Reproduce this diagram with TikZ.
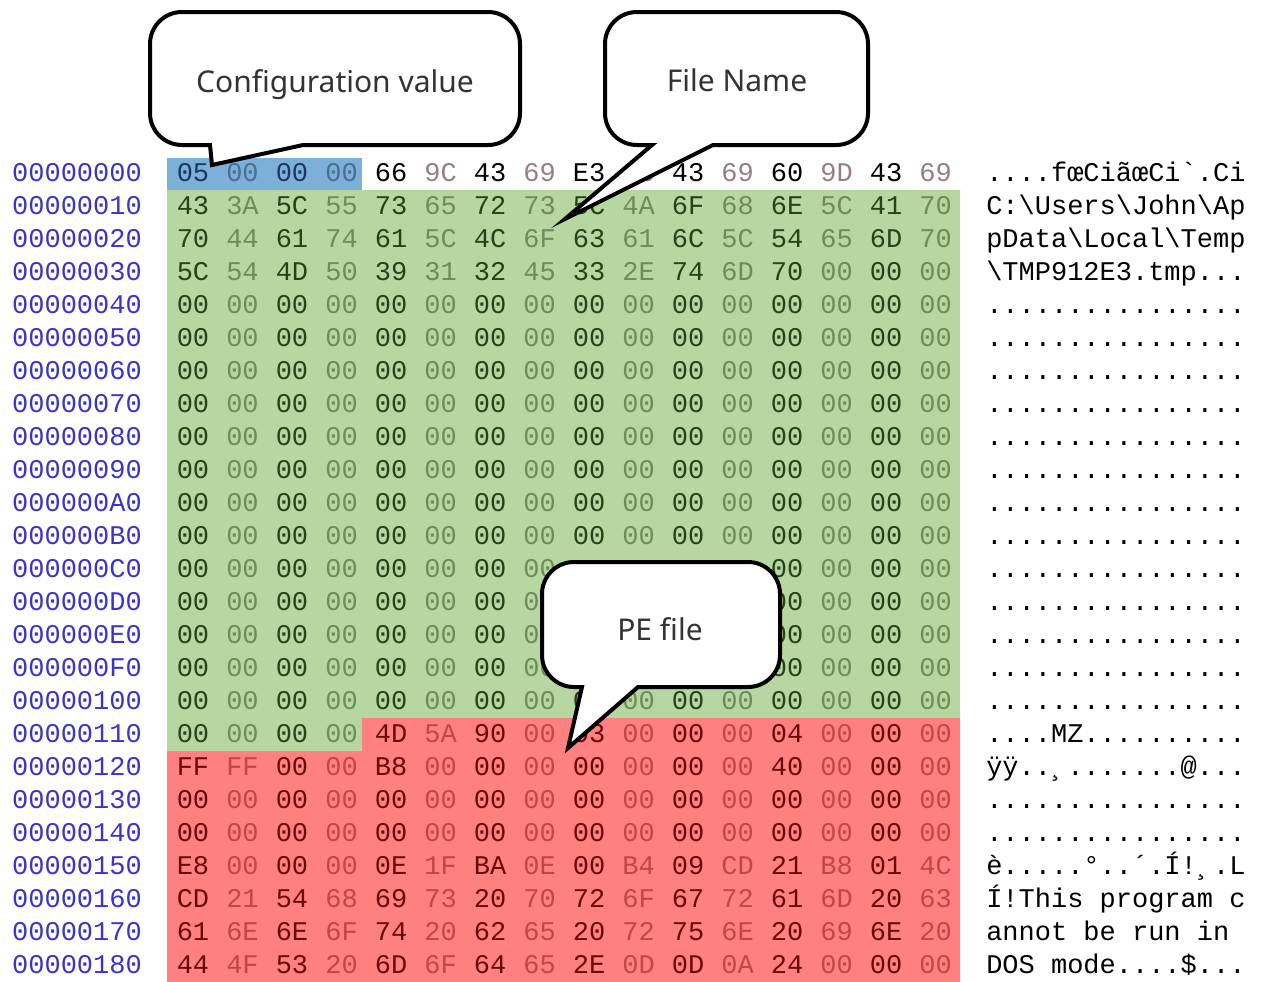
\documentclass[tikz,border=0pt]{standalone}
\usepackage{fontspec}
\setmainfont{Noto Sans}
\newfontfamily\hexfont{Liberation Mono}
\definecolor{cfgblue}{RGB}{124,176,216}
\definecolor{namegreen}{RGB}{182,214,162}
\definecolor{pered}{RGB}{255,128,128}
\definecolor{offsetblue}{RGB}{60,50,205}
% byte colours: first digit = odd column, second = zone (white, blue, green, red)
\definecolor{byte00}{RGB}{0,0,0}
\definecolor{byte10}{RGB}{150,125,130}
\definecolor{byte01}{RGB}{25,55,95}
\definecolor{byte11}{RGB}{75,110,145}
\definecolor{byte02}{RGB}{40,65,25}
\definecolor{byte12}{RGB}{110,140,90}
\definecolor{byte03}{RGB}{105,10,10}
\definecolor{byte13}{RGB}{195,70,70}
\tikzset{
  hexbyte/.style={font=\hexfont\fontsize{20.25}{24}\selectfont, inner sep=0pt, anchor=base},
  offset/.style={hexbyte, text=offsetblue},
  asciitext/.style={hexbyte, anchor=base west},
  callout/.style={draw=black, fill=white, line width=3pt},
  calltext/.style={font=\fontsize{22.5}{28}\selectfont, text=black!80, inner sep=0pt, anchor=base}
}
\newcommand\putbyte[3]{%
  \pgfmathtruncatemacro\zone{#1==0 ? (#2<4 ? 1 : 0) : ((#1<17 || (#1==17 && #2<4)) ? 2 : 3)}%
  \pgfmathtruncatemacro\shade{mod(#2,2)}%
  \node[hexbyte, text=byte\shade\zone] (b-#1-#2) at ({193+49.5*#2},{181.5+33*#1}) {#3};}
\begin{document}
\begin{tikzpicture}[x=0.75pt,y=-0.75pt]
\fill[white] (0,0) rectangle (1261,982);
\useasboundingbox (0,0) rectangle (1261,982);
\fill[cfgblue] (167,158) rectangle (362,190);
\fill[namegreen] (167,190) -- (960,190) -- (960,718) -- (362,718) -- (362,751) -- (167,751) -- cycle;
\fill[pered] (362,718) -- (960,718) -- (960,982) -- (167,982) -- (167,751) -- (362,751) -- cycle;
\foreach \addr [count=\row from 0] in {00000000,00000010,00000020,00000030,00000040,
  00000050,00000060,00000070,00000080,00000090,000000A0,000000B0,000000C0,000000D0,
  000000E0,000000F0,00000100,00000110,00000120,00000130,00000140,00000150,00000160,
  00000170,00000180}
  \node[offset] (o-\row) at (77,{181.5+33*\row}) {\addr};
\foreach \row/\bytes in {
  0/{05,00,00,00,66,9C,43,69,E3,9C,43,69,60,9D,43,69},
  1/{43,3A,5C,55,73,65,72,73,5C,4A,6F,68,6E,5C,41,70},
  2/{70,44,61,74,61,5C,4C,6F,63,61,6C,5C,54,65,6D,70},
  3/{5C,54,4D,50,39,31,32,45,33,2E,74,6D,70,00,00,00},
  17/{00,00,00,00,4D,5A,90,00,03,00,00,00,04,00,00,00},
  18/{FF,FF,00,00,B8,00,00,00,00,00,00,00,40,00,00,00},
  21/{E8,00,00,00,0E,1F,BA,0E,00,B4,09,CD,21,B8,01,4C},
  22/{CD,21,54,68,69,73,20,70,72,6F,67,72,61,6D,20,63},
  23/{61,6E,6E,6F,74,20,62,65,20,72,75,6E,20,69,6E,20},
  24/{44,4F,53,20,6D,6F,64,65,2E,0D,0D,0A,24,00,00,00}}
  \foreach \val [count=\col from 0] in \bytes {\putbyte{\row}{\col}{\val}};
% zero rows, leaving out the bytes hidden under the PE file callout
\foreach \row in {4,5,6,7,8,9,10,11,12,13,14,15,16,19,20}
  \foreach \col in {0,...,15} {%
    \pgfmathtruncatemacro\hide{(\row>11 && \row<16 && \col>7 && \col<12) ? 1 : 0}%
    \ifnum\hide=0 \putbyte{\row}{\col}{00}\fi};
\node[asciitext] (a-0) at (986,181.5) {....fœCiãœCi\textasciigrave.Ci};
\node[asciitext] (a-1) at (986,214.5) {C:\textbackslash Users\textbackslash John\textbackslash Ap};
\node[asciitext] (a-2) at (986,247.5) {pData\textbackslash Local\textbackslash Temp};
\node[asciitext] (a-3) at (986,280.5) {\textbackslash TMP912E3.tmp...};
\foreach \row in {4,5,6,7,8,9,10,11,12,13,14,15,16,19,20}
  \node[asciitext] (a-\row) at (986,{181.5+33*\row}) {................};
\node[asciitext] (a-17) at (986,742.5) {....MZ..........};
\node[asciitext] (a-18) at (986,775.5) {ÿÿ..¸.......@...};
\node[asciitext] (a-21) at (986,874.5) {è.....°..´.Í!¸.L};
\node[asciitext] (a-22) at (986,907.5) {Í!This program c};
\node[asciitext] (a-23) at (986,940.5) {annot be run in};
\node[asciitext] (a-24) at (986,973.5) {DOS mode....\$...};
\draw[callout] (335,12) [rounded corners=24] -- (150,12) -- (150,145) [sharp corners] -- (210,145)
  -- (212,165) -- (303,145) [rounded corners=24] -- (520,145) -- (520,12) -- cycle;
\draw[callout] (737,12) [rounded corners=24] -- (605,12) -- (605,145) [sharp corners] -- (652,145)
  -- (565,219) -- (713,145) [rounded corners=24] -- (868,145) -- (868,12) -- cycle;
\draw[callout] (660,562) [rounded corners=24] -- (542,562) -- (542,687) [sharp corners] -- (582,687)
  -- (568,748) -- (638,687) [rounded corners=24] -- (780,687) -- (780,562) -- cycle;
\node[calltext] (cfg) at (335,92) {Configuration value};
\node[calltext] (fname) at (737,91) {File Name};
\node[calltext] (pe) at (660,640) {PE file};
\end{tikzpicture}
\end{document}
